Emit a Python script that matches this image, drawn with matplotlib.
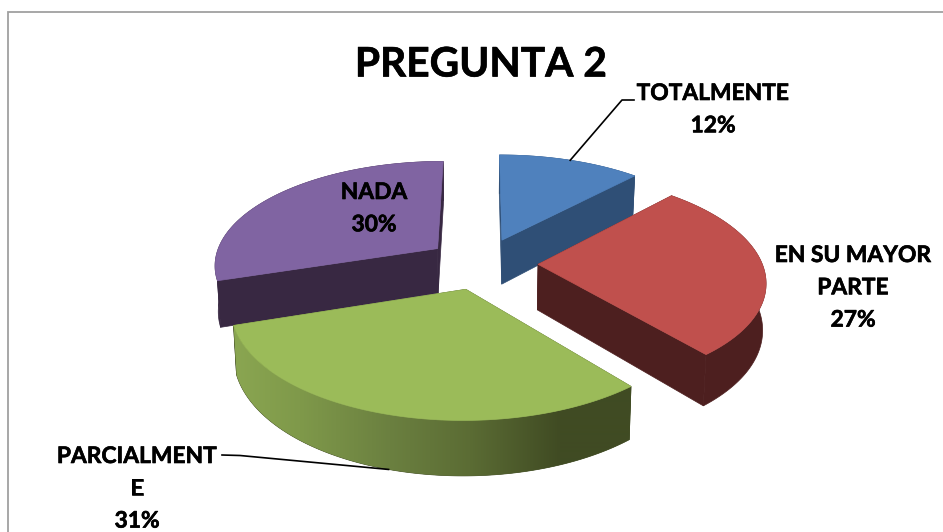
import numpy as np
import matplotlib
matplotlib.use("Agg")
import matplotlib.pyplot as plt
import matplotlib.patheffects as pe
from matplotlib.colors import to_rgb
from matplotlib.patches import Polygon

# ---- data ----
title = "PREGUNTA 2"
categories = ["TOTALMENTE", "EN SU MAYOR PARTE", "PARCIALMENTE", "NADA"]
values = [12, 27, 31, 30]
label_lines = [["TOTALMENTE", "12%"], ["EN SU MAYOR", "PARTE", "27%"],
               ["PARCIALMENT", "E", "31%"], ["NADA", "30%"]]
top_colors = ["#4F81BD", "#C0504D", "#9BBB59", "#8064A2"]
side_colors = ["#2F4F76", "#4D1F1F", "#404B23", "#382842"]

# ---- 3D projection layout (pixels) ----
W, H = 943, 532
CX, CY = 482, 263.5
RX, RY, K = 224, 103.8, 0.145
EXPLODE, DEPTH, TAPER = 0.25, 45.5, 0.988

plt.rcParams["font.family"] = ["Lato", "DejaVu Sans"]
fig = plt.figure(figsize=(W / 100, H / 100), dpi=100, facecolor="white")
ax = fig.add_axes([0, 0, 1, 1])
ax.set_xlim(0, W)
ax.set_ylim(H, 0)
ax.axis("off")


def proj(X, Y, bottom=False):
    p = 1 / (1 + K * Y)
    sx = RX * X * p
    sy = -RY * Y * p
    if bottom:
        return np.column_stack([CX + TAPER * sx, CY + sy + DEPTH * p])
    return np.column_stack([CX + sx, CY + sy])


def ramp_image(xs):
    """Shading of the green outer wall along screen x."""
    stops_x = [235, 300, 390, 470, 560, 640]
    stops = np.array([to_rgb(c) for c in ["#8AA651", "#7F994A", "#6B8040", "#5B6C34", "#404B23", "#404B23"]])
    return np.stack([np.interp(xs, stops_x, stops[:, i]) for i in range(3)], axis=-1)[None, :, :]


shares = np.array(values, float) / sum(values)
edges = np.concatenate([[0], np.cumsum(shares)]) * 2 * np.pi

slices = []
for i in range(len(values)):
    a0, a1 = edges[i], edges[i + 1]
    mid = (a0 + a1) / 2
    ox, oy = EXPLODE * np.sin(mid), EXPLODE * np.cos(mid)
    t = np.linspace(a0, a1, 160)
    slices.append(dict(i=i, mid=mid, ox=ox, oy=oy, X=ox + np.sin(t), Y=oy + np.cos(t)))

# painter's order: back to front
for s in [slices[0], slices[3], slices[1], slices[2]]:
    i, ox, oy, X, Y = s["i"], s["ox"], s["oy"], s["X"], s["Y"]
    top_arc = proj(X, Y)
    bot_arc = proj(X, Y, True)
    apex_t = proj(np.array([ox]), np.array([oy]))
    apex_b = proj(np.array([ox]), np.array([oy]), True)
    side = side_colors[i]
    # cut faces
    for k in (0, -1):
        ax.add_patch(Polygon(np.vstack([apex_t, top_arc[k], bot_arc[k], apex_b]),
                             closed=True, fc=side, ec=side, lw=0.5))
    # outer wall
    wall = Polygon(np.vstack([top_arc, bot_arc[::-1]]), closed=True, fc=side, ec=side, lw=0.5)
    ax.add_patch(wall)
    if i == 2:
        xs = np.arange(0, W)
        im = ax.imshow(ramp_image(xs + 0.5), extent=(0, W, H, 0), aspect="auto",
                       interpolation="bilinear", zorder=wall.get_zorder())
        clip = Polygon(np.vstack([top_arc, bot_arc[::-1]]), closed=True, transform=ax.transData)
        im.set_clip_path(clip)
        ax.set_xlim(0, W)
        ax.set_ylim(H, 0)
    # top face
    ax.add_patch(Polygon(np.vstack([apex_t, top_arc]), closed=True,
                         fc=top_colors[i], ec=top_colors[i], lw=0.5, zorder=2))

# chart frame
ax.plot([8, 8, W], [H, 12, 12], color="#A0A0A0", lw=1.3, solid_joinstyle="miter", zorder=3)

# title and labels
thick = [pe.withStroke(linewidth=0.45, foreground="black")]
ax.text(481, 65, title, ha="center", va="center", fontsize=29.3, fontweight="bold",
        color="black", path_effects=thick, zorder=4)
label_pos = [(713, 93.5), (853, 255.5), (137, 456.5), (374, 192.5)]
for lines, (lx, ly) in zip(label_lines, label_pos):
    for n, line in enumerate(lines):
        ax.text(lx, ly + n * 32.3, line, ha="center", va="center", fontsize=16.4,
                fontweight="bold", color="black", path_effects=thick, zorder=4)

# leader lines, ending on the slice rims
s = slices[0]
end = proj(np.array([s["ox"] + np.sin(s["mid"])]), np.array([s["oy"] + np.cos(s["mid"])]))[0]
ax.plot([634, 622, end[0]], [100, 100, end[1]], color="black", lw=1.2, zorder=4)
s = slices[2]
end = proj(np.array([s["ox"] + np.sin(s["mid"])]), np.array([s["oy"] + np.cos(s["mid"])]), True)[0]
ax.plot([222, 240, end[0]], [455, 455.5, end[1]], color="black", lw=1.2, zorder=4)

fig.savefig("out.png", dpi=100, facecolor="white")
